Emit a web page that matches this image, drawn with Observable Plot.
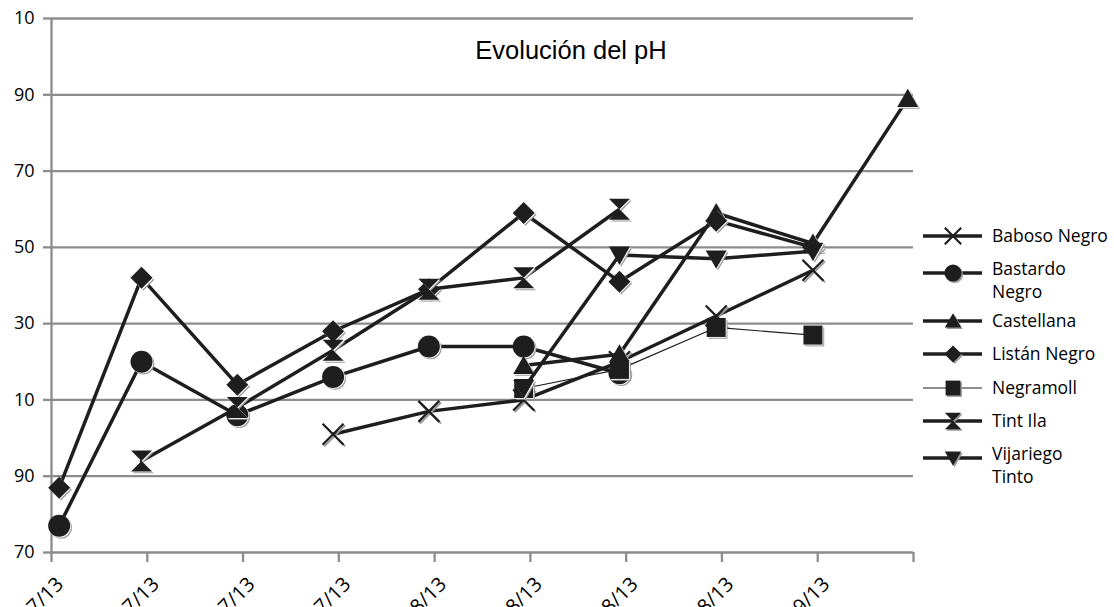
<!DOCTYPE html>
<html><head><meta charset="utf-8">
<script src="https://cdn.jsdelivr.net/npm/d3@7"></script>
<script src="https://cdn.jsdelivr.net/npm/@observablehq/plot@0.6"></script>
<style>html,body{margin:0;padding:0;background:#fff;overflow:hidden}#chart{width:1114px;height:607px}</style>
</head><body><div id="chart"></div>
<script>
// ---- data ----
const title = "Evolución del pH";
const xTicks = [0, 1, 2, 3, 4, 5, 6, 7, 8, 9];
const xLabels = ["08/07/13","15/07/13","22/07/13","29/07/13","05/08/13","12/08/13","19/08/13","26/08/13","02/09/13",""];
const samplePos = [0.08, 0.94, 1.94, 2.94, 3.94, 4.93, 5.93, 6.94, 7.95, 8.94];
const yTicks = [2.7, 2.9, 3.1, 3.3, 3.5, 3.7, 3.9, 4.1];
const yTickLabels = ["70", "90", "10", "30", "50", "70", "90", "10"];
const seriesNames = ["Baboso Negro", "Bastardo Negro", "Castellana", "Listán Negro", "Negramoll", "Tint Ila", "Vijariego Tinto"];
const babosoNegro   = [null, null, null, 3.01, 3.07, 3.10, 3.20, 3.32, 3.44, null];
const bastardoNegro = [2.77, 3.20, 3.06, 3.16, 3.24, 3.24, 3.17, null, null, null];
const castellana    = [null, null, null, null, null, 3.19, 3.22, 3.59, 3.51, 3.89];
const listanNegro   = [2.87, 3.42, 3.14, 3.28, 3.39, 3.59, 3.41, 3.57, 3.50, null];
const negramoll     = [null, null, null, null, null, 3.13, 3.18, 3.29, 3.27, null];
const tintIla       = [null, 2.94, 3.08, 3.23, 3.39, 3.42, 3.60, null, null, null];
const vijariegoTinto= [null, null, null, null, null, 3.13, 3.48, 3.47, 3.49, null];
const seriesValues = [babosoNegro, bastardoNegro, castellana, listanNegro, negramoll, tintIla, vijariegoTinto];

// ---- symbols ----
const hOf = s => Math.sqrt(s / Math.PI);
const symbols = {
  times: {draw(c, s) { const h = hOf(s); c.moveTo(-h, -h); c.lineTo(h, h); c.moveTo(h, -h); c.lineTo(-h, h); }},
  circle: {draw(c, s) { const h = hOf(s); c.moveTo(h, 0); c.arc(0, 0, h, 0, 2 * Math.PI); c.closePath(); }},
  triUp: {draw(c, s) { const h = hOf(s); c.moveTo(0, -h * 0.95); c.lineTo(h, h * 0.8); c.lineTo(-h, h * 0.8); c.closePath(); }},
  diamond: {draw(c, s) { const h = hOf(s); c.moveTo(0, -h); c.lineTo(h, 0); c.lineTo(0, h); c.lineTo(-h, 0); c.closePath(); }},
  square: {draw(c, s) { const h = hOf(s); c.moveTo(-h, -h); c.lineTo(h, -h); c.lineTo(h, h); c.lineTo(-h, h); c.closePath(); }},
  hourglass: {draw(c, s) { const h = hOf(s); c.moveTo(-h, -h); c.lineTo(h, -h); c.lineTo(-h, h); c.lineTo(h, h); c.closePath(); }},
  triDown: {draw(c, s) { const h = hOf(s); c.moveTo(-h, -h * 0.8); c.lineTo(h, -h * 0.8); c.lineTo(0, h * 0.95); c.closePath(); }}
};
const styles = [
  {sym: "times", r: 10.5, lw: 3.5, stroked: true},
  {sym: "circle", r: 11, lw: 3.5},
  {sym: "triUp", r: 10.5, lw: 3.5},
  {sym: "diamond", r: 11, lw: 3.5},
  {sym: "square", r: 9.5, lw: 1.2},
  {sym: "hourglass", r: 10.5, lw: 3.5},
  {sym: "triDown", r: 10.5, lw: 3.5}
];
const ink = "#1e1e1e", shadow = "#9a9a9a", grid = "#8c8c8c";

const marks = [
  Plot.ruleY(yTicks, {stroke: grid, strokeWidth: 2.3}),
  Plot.ruleX([0], {y1: 2.7, y2: 4.1, stroke: grid, strokeWidth: 2.3}),
  Plot.axisY({ticks: yTicks, tickSize: 8, tickPadding: 9, tickFormat: d => yTickLabels[yTicks.indexOf(d)], stroke: grid, strokeWidth: 2.3, fill: "#000", fontSize: 18, label: null}),
  Plot.axisX({ticks: xTicks, tickSize: 10, tickFormat: () => "", stroke: grid, strokeWidth: 2.3, label: null}),
  Plot.text(xTicks.map((t, i) => ({t, label: xLabels[i]})), {x: "t", y: () => 2.7, text: "label", rotate: -45, textAnchor: "end", lineAnchor: "bottom", dx: 13, dy: 33, fontSize: 20, fill: "#000"})
];

seriesNames.forEach((name, k) => {
  const st = styles[k];
  const data = seriesValues[k].map((v, i) => ({x: samplePos[i], y: v})).filter(d => d.y != null);
  marks.push(Plot.line(data, {x: "x", y: "y", stroke: ink, strokeWidth: st.lw}));
  const sym = symbols[st.sym];
  if (st.stroked) {
    marks.push(Plot.dot(data, {x: "x", y: "y", symbol: sym, r: st.r, fill: "none", stroke: shadow, strokeWidth: 2, dx: 1.6, dy: 1.6}));
    marks.push(Plot.dot(data, {x: "x", y: "y", symbol: sym, r: st.r, fill: "none", stroke: ink, strokeWidth: 2.2}));
  } else {
    marks.push(Plot.dot(data, {x: "x", y: "y", symbol: sym, r: st.r, fill: shadow, stroke: "none", dx: 1.8, dy: 1.8}));
    marks.push(Plot.dot(data, {x: "x", y: "y", symbol: sym, r: st.r, fill: "#fff", stroke: "none", dx: 0.8, dy: 0.8}));
    marks.push(Plot.dot(data, {x: "x", y: "y", symbol: sym, r: st.r, fill: ink, stroke: "none"}));
  }
});

const chart = Plot.plot({
  width: 1114, height: 607,
  marginLeft: 51, marginRight: 201, marginTop: 18, marginBottom: 55,
  x: {type: "linear", domain: [0, 9]},
  y: {type: "linear", domain: [2.7, 4.1]},
  style: {fontFamily: "'Open Sans', 'Noto Sans', sans-serif", fontSize: "17px", background: "#fff", color: "#000", overflow: "hidden"},
  marks
});
document.getElementById("chart").appendChild(chart);

// title
const svg = d3.select(chart);
svg.append("text").attr("x", 571).attr("y", 59).attr("text-anchor", "middle")
  .attr("font-family", "'Liberation Sans', Arial, sans-serif").attr("font-size", 25.5).attr("fill", "#000").text(title);

// legend
const legendY = [236, 273, 321, 354, 388, 421, 458];
const lg = svg.append("g").attr("font-family", "'Open Sans', sans-serif").attr("font-size", 17.5).attr("fill", "#000").attr("text-anchor", "start");
seriesNames.forEach((name, k) => {
  const st = styles[k], y = legendY[k];
  const g = lg.append("g");
  g.append("line").attr("x1", 923).attr("x2", 982).attr("y1", y).attr("y2", y).attr("stroke", ink).attr("stroke-width", st.lw);
  const p = d3.path(); const rr = st.r * 0.78; symbols[st.sym].draw(p, rr * rr * Math.PI);
  if (st.stroked) {
    g.append("path").attr("d", p.toString()).attr("transform", `translate(${953},${y})`).attr("fill", "none").attr("stroke", ink).attr("stroke-width", 2.2);
  } else {
    g.append("path").attr("d", p.toString()).attr("transform", `translate(${954.5},${y + 1.5})`).attr("fill", shadow);
    g.append("path").attr("d", p.toString()).attr("transform", `translate(${953},${y})`).attr("fill", ink);
  }
  const words = name.split(" ");
  const lines = (name === "Bastardo Negro" || name === "Vijariego Tinto") ? words : [name];
  if (lines.length === 1) {
    g.append("text").attr("x", 992).attr("y", y + 6).text(lines[0]);
  } else {
    g.append("text").attr("x", 992).attr("y", y + 2).text(lines[0]);
    g.append("text").attr("x", 992).attr("y", y + 25).text(lines[1]);
  }
});
</script>
</body></html>
